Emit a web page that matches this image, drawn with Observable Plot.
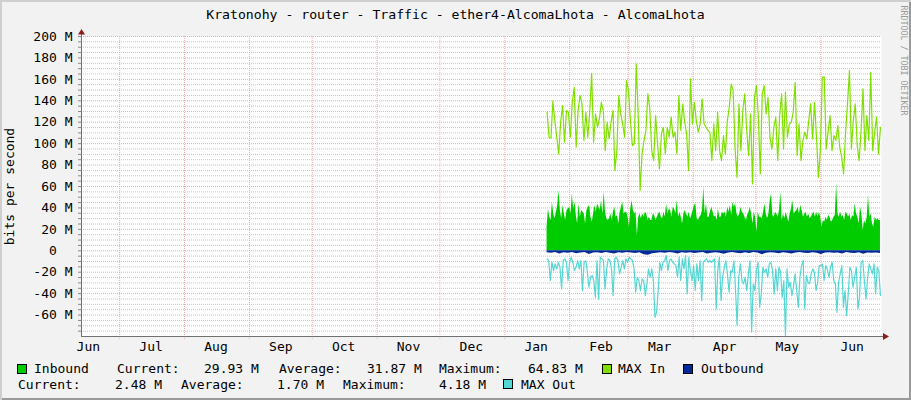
<!DOCTYPE html>
<html>
<head>
<meta charset="utf-8">
<script src="https://cdn.jsdelivr.net/npm/d3@7"></script>
<script src="https://cdn.jsdelivr.net/npm/@observablehq/plot@0.6"></script>
<style>
html,body{margin:0;padding:0;background:#F2F2F2;}
#chart{position:relative;width:911px;height:400px;background:#F2F2F2;overflow:hidden;
  font-family:"DejaVu Sans Mono",monospace;font-size:13px;color:#000;
  box-shadow: inset 2px 2px 0 #CFCFCF, inset -2px -2px 0 #9A9A9A;}
.t{position:absolute;white-space:pre;line-height:13px;}
.sw{position:absolute;width:8px;height:8px;border:1px solid #000;}
#plot{position:absolute;left:0;top:0;}
</style>
</head>
<body>
<div id="chart">
  <div id="plot"></div>
</div>
<script>
// ---------- text ----------
const title = "Kratonohy - router - Traffic - ether4-AlcomaLhota - AlcomaLhota";
const yAxisTitle = "bits per second";
const watermark = "RRDTOOL / TOBI OETIKER";
const monthLabels = ["Jun","Jul","Aug","Sep","Oct","Nov","Dec","Jan","Feb","Mar","Apr","May","Jun"];
const yMajor = [-60,-40,-20,0,20,40,60,80,100,120,140,160,180,200];

// ---------- legend ----------
const legendNames = ["Inbound","MAX In","Outbound","MAX Out"];
const legendColors = ["#00CC00","#7FE000","#002A97","#55D6D3"];
const inStats = {current:"29.93 M", average:"31.87 M", maximum:"64.83 M"};
const outStats = {current:"2.48 M", average:"1.70 M", maximum:"4.18 M"};

// ---------- time frame ----------
const xDomain = [new Date(Date.UTC(2018,5,12,18)), new Date(Date.UTC(2019,5,30,0))];
const seriesStart = new Date(Date.UTC(2019,0,21,5));
const seriesEnd = new Date(Date.UTC(2019,5,29,12));

// ---------- series (M bits/s) ----------
const maxIn = [
129.3,106,105.4,139.6,121.5,106,90.4,120,135.5,101.3,
130.9,129.3,106,138.6,152.6,96.7,130.9,144.9,137.1,102.9,
129.3,106,129.3,165.7,101.3,127.8,115.3,123.1,138.6,130.9,
93.5,120,104.4,120,130.9,74.9,93.5,144.9,127.8,118.4,
106,158.9,149.5,121.5,98.2,99.8,174.4,127.8,56.2,90.4,
102.9,112.2,146.4,132.4,93.5,84.2,126.2,99.8,76.4,109.1,
115.3,90.4,115.3,106,124.7,106,110.7,90.4,144.9,112.2,
137.1,120,109.1,74.9,160.4,118.4,138.6,121.5,110.7,118.4,
141.8,118.4,115.3,112.2,110.7,
84.2,118.4,93.5,129.3,93.5,84.2,107.5,90.4,
121.5,134,155.8,149.5,95.1,68.6,137.1,
93.5,130.9,146.4,112.2,88.9,127.8,62.4,143.3,
154.2,124.7,71.8,146.4,154.2,127.8,143.3,106,
95.1,115.3,124.7,84.2,126.2,146.4,95.1,148,106,
118.4,120,129.3,157.3,88.9,118.4,84.2,
102.9,110.7,104.4,121.5,137.1,104.4,138.6,106,68.6,
93.5,162,162,95.1,110.7,126.2,93.5,107.5,
102.9,116.9,96.7,87.3,71.8,110.7,137.1,168.2,95.1,
121.5,137.1,98.2,84.2,112.2,151.1,93.5,126.2,102.9,
166.6,93.5,110.7,124.7,90.4,115.3
];

const maxOut = [
7.6,9.1,27.8,10.7,18.5,12.2,16.9,10.7,15.4,35.6,
9.1,7.6,10.7,27.8,10.7,6.0,10.7,18.5,15.4,9.1,
16.9,9.1,37.1,10.7,9.1,20.0,34.0,24.7,23.1,27.8,
43.4,9.1,44.9,6.0,7.6,9.1,35.6,16.9,7.6,9.1,
16.9,41.8,7.6,6.0,9.1,21.6,15.4,9.1,16.9,7.6,
10.7,6.0,7.6,9.1,16.9,38.7,24.7,27.8,37.1,26.3,
27.8,41.8,30.9,16.9,24.7,16.9,27.8,62.0,57.4,37.1,
10.7,18.5,10.7,9.1,4.5,18.5,9.1,7.6,10.7,12.2,
13.8,24.7,6.0,27.8,7.6,16.9,4.5,40.2,6.0,18.5,
27.8,13.8,37.1,12.2,27.8,9.1,46.5,10.7,9.1,7.6,
10.7,9.1,10.7,9.1,
7.6,54.2,18.5,6.0,46.5,24.7,15.4,9.1,21.6,38.7,
18.5,20.0,9.1,35.6,69.7,24.7,12.2,27.8,30.9,24.7,
37.1,21.6,9.1,75.9,30.9,37.1,18.5,10.7,52.7,40.2,
15.4,20.0,16.9,24.7,12.2,10.7,18.5,40.2,16.9,37.1,
15.4,20.0,43.4,27.8,79.0,16.9,34.0,29.4,41.8,34.0,
21.6,37.1,52.7,24.7,13.8,9.1,54.2,23.1,29.4,30.9,
21.6,16.9,20.0,37.1,29.4,13.8,13.8,12.2,27.8,13.8,
16.9,24.7,15.4,10.7,27.8,30.9,57.4,29.4,21.6,13.8,
52.7,37.1,60.4,40.2,15.4,18.5,34.0,24.7,15.4,54.2,
43.4,10.7,9.1,27.8,44.9,26.3,12.2,16.9,21.6,12.2,
40.2,15.4,18.5,41.8
];

const inbound = [
22.0,39.1,31.3,28.2,45.3,34.4,29.8,36.0,42.2,56.2,
37.5,29.8,42.2,34.4,28.2,37.5,39.1,40.7,34.4,53.1,
39.1,45.3,32.9,25.1,43.7,31.3,37.5,36.0,34.4,25.1,
37.5,40.7,42.2,31.3,26.6,34.4,42.2,36.0,43.7,40.7,
37.5,46.9,34.4,54.6,36.0,29.8,28.2,29.8,34.4,28.2,
36.0,40.7,31.3,32.9,25.1,36.0,40.7,45.3,34.4,36.0,
36.0,31.3,22.0,39.1,46.9,37.5,34.4,36.0,14.2,31.3,
34.4,29.8,34.4,31.3,36.0,34.4,28.2,31.3,28.2,28.2,
34.4,32.9,28.2,31.3,34.4,36.0,31.3,29.8,36.0,31.3,
43.7,34.4,39.1,37.5,31.3,40.7,39.1,34.4,46.9,31.3,
36.0,31.3,25.1,34.4,37.5,34.4,31.3,36.0,29.8,32.9,
37.5,42.2,43.7,29.8,28.2,31.3,32.9,37.5,59.3,34.4,
43.7,31.3,31.3,36.0,
40.7,36.0,31.3,32.9,28.2,39.1,31.3,31.3,36.0,34.4,
36.0,31.3,40.7,36.0,42.2,32.9,45.3,40.7,43.7,34.4,
31.3,34.4,40.7,36.0,34.4,31.3,28.2,32.9,36.0,40.7,
34.4,25.1,36.0,31.3,17.3,36.0,31.3,31.3,29.8,36.0,
43.7,34.4,29.8,34.4,46.9,53.1,32.9,31.3,36.0,34.4,
31.3,37.5,54.6,28.2,34.4,29.8,36.0,31.3,26.6,34.4,
39.1,46.9,34.4,36.0,37.5,40.7,34.4,42.2,37.5,31.3,
34.4,36.0,31.3,34.4,29.8,31.3,34.4,36.0,31.3,36.0,
31.3,36.0,31.3,22.0,28.2,26.6,31.3,28.2,32.9,31.3,
26.6,28.2,31.3,32.9,62.4,34.4,31.3,36.0,31.3,32.9,
28.2,36.0,34.4,31.3,34.4,28.2,32.9,31.3,43.7,34.4,
31.3,25.1,40.7,34.4,18.9,28.2,25.1,31.3,51.5,31.3,
34.4,25.1,22.0,31.3,28.2,29.8,28.2,28.2
];

const outbound = [
1.8,2.2,1.5,3.1,1.9,2.4,1.6,2.8,2.0,1.7,
3.4,2.1,1.8,2.5,1.6,2.2,2.9,1.9,2.3,1.7,
2.0,2.6,1.8,3.8,4.1,2.7,2.2,1.9,2.4,1.6,
2.1,3.0,1.8,2.3,1.9,2.6,2.0,1.7,2.9,2.2,
1.8,2.4,3.3,2.0,1.7,2.2,2.8,1.9,2.5,1.6,
2.1,3.6,2.3,1.8,2.0,2.7,1.9,2.4,3.1,2.0,
1.7,2.2,2.6,1.9,2.3,3.5,2.1,1.8,2.4,2.0,
2.9,1.7,2.2,2.5,1.9,3.2,2.1,2.4,2.0,2.5
];

// ---------- build ----------
function timeline(values) {
  const n = values.length;
  return values.map((v, i) => ({date: new Date(+seriesStart + (seriesEnd - seriesStart) * i / (n - 1)), v}));
}
const inData = timeline(inbound), outData = timeline(outbound);
const maxInData = timeline(maxIn), maxOutData = timeline(maxOut);

const monthStarts = d3.utcMonth.range(new Date(Date.UTC(2018,6,1)), new Date(Date.UTC(2019,5,2)));
const labelDates = d3.utcMonth.range(new Date(Date.UTC(2018,5,1)), new Date(Date.UTC(2019,6,1))).map(d => d3.utcDay.offset(d, 15));
const yAll = d3.range(-75, 201, 5);
const yMinor = yAll.filter(d => d % 20 !== 0);
const yLabel = d => d % 20 !== 0 ? "" : (d === 0 ? "0\u00A0\u00A0" : `${d} M`);

const font = "DejaVu Sans Mono";
const chart = Plot.plot({
  width: 911, height: 360,
  marginLeft: 81, marginRight: 30, marginTop: 36, marginBottom: 24,
  style: {background: "transparent", fontFamily: font, fontSize: "13px", overflow: "visible", color: "#000"},
  x: {type: "utc", domain: xDomain, axis: null},
  y: {domain: [-80, 200], axis: null},
  marks: [
    Plot.frame({fill: "white", stroke: "none"}),
    Plot.ruleY(yMinor, {stroke: "#C4C4C4", strokeDasharray: "1,1"}),
    Plot.ruleY(yMajor, {stroke: "#F4A6A6", strokeDasharray: "1,1"}),
    Plot.ruleX(monthStarts, {stroke: "#F4A6A6", strokeDasharray: "1,1", insetBottom: -3}),
    Plot.areaY(inData, {x: "date", y: "v", fill: legendColors[0], curve: "linear"}),
    Plot.areaY(outData, {x: "date", y: d => -d.v, fill: legendColors[2], curve: "linear"}),
    Plot.line(maxInData, {x: "date", y: "v", stroke: legendColors[1], strokeWidth: 1.2, curve: "linear"}),
    Plot.line(maxOutData, {x: "date", y: d => -d.v, stroke: legendColors[3], strokeWidth: 1.2, curve: "linear"}),
    Plot.axisY({ticks: yAll, tickFormat: yLabel, tickSize: 3, tickPadding: 6, stroke: "#888", fill: "#000", label: null, fontSize: 13}),
    Plot.axisX({ticks: labelDates, tickFormat: (d, i) => monthLabels[i], tickSize: 0, tickPadding: 5, fill: "#000", label: null, fontSize: 13}),
    Plot.ruleX([xDomain[0]], {stroke: "#707070", insetTop: -6}),
    Plot.ruleY([-80], {stroke: "#707070", insetRight: -3})
  ]
});
document.getElementById("plot").appendChild(chart);

// arrows at the ends of the axes
const sx = chart.scale("x"), sy = chart.scale("y");
const ax = sx.range[0] + 0.5, ay = sy.range[0] + 0.5, topY = sy.range[1], rightX = sx.range[1];
const svg = d3.select(chart);
svg.append("path")
  .attr("d", `M${ax},${topY - 7} L${ax - 3.5},${topY - 1.5} L${ax + 3.5},${topY - 1.5} Z`)
  .attr("fill", "#8E1C1C");
svg.append("path")
  .attr("d", `M${rightX + 8},${ay} L${rightX + 2},${ay - 3.5} L${rightX + 2},${ay + 3.5} Z`)
  .attr("fill", "#8E1C1C");

// ---------- HTML text ----------
const box = document.getElementById("chart");
function addText(txt, left, top, extra) {
  const d = document.createElement("div");
  d.className = "t"; d.textContent = txt;
  d.style.left = left + "px"; d.style.top = top + "px";
  if (extra) Object.assign(d.style, extra);
  box.appendChild(d); return d;
}
function addSwatch(color, left, top) {
  const d = document.createElement("div");
  d.className = "sw"; d.style.background = color;
  d.style.left = left + "px"; d.style.top = top + "px";
  box.appendChild(d);
}
addText(title, 0, 8, {width: "911px", textAlign: "center", fontSize: "13.15px"});
addText(yAxisTitle, -50, 179.5, {width: "118px", textAlign: "center", transform: "rotate(-90deg)", transformOrigin: "59px 6.5px"});
addText(watermark, 848, 56, {width: "110px", textAlign: "center", fontSize: "8.3px", lineHeight: "9px", color: "#9A9A9A", transform: "rotate(90deg)", transformOrigin: "55px 4.5px"});

// legend row 1
const r1 = 362, r2 = 378;
addSwatch(legendColors[0], 17, 364);
addText(legendNames[0], 34, r1);
addText("Current:", 117, r1);
addText(inStats.current, 204, r1);
addText("Average:", 279, r1);
addText(inStats.average, 367, r1);
addText("Maximum:", 439, r1);
addText(inStats.maximum, 528, r1);
addSwatch(legendColors[1], 602, 364);
addText(legendNames[1], 618, r1);
addSwatch(legendColors[2], 683, 364);
addText(legendNames[2], 701, r1);
// legend row 2
addText("Current:", 18, r2);
addText(outStats.current, 115, r2);
addText("Average:", 181, r2);
addText(outStats.average, 277, r2);
addText("Maximum:", 343, r2);
addText(outStats.maximum, 439, r2);
addSwatch(legendColors[3], 503, 379);
addText(legendNames[3], 521, r2);
</script>
</body>
</html>
